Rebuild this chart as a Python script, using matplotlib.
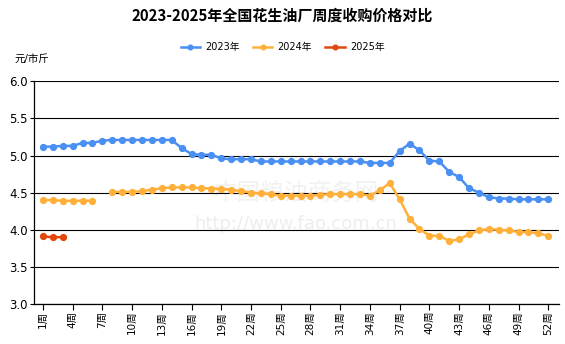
import numpy as np
import matplotlib
matplotlib.use("Agg")
import matplotlib.pyplot as plt

plt.rcParams['font.family'] = ['DejaVu Sans', 'Noto Sans CJK SC']

# data (yuan per jin)
weeks = np.arange(1, 53)
y2023 = [5.12, 5.12, 5.13, 5.13, 5.17, 5.17, 5.20, 5.21, 5.21, 5.21,
         5.21, 5.21, 5.21, 5.21, 5.10, 5.02, 5.01, 5.01, 4.96, 4.95,
         4.95, 4.95, 4.92, 4.92, 4.92, 4.92, 4.92, 4.92, 4.92, 4.92,
         4.92, 4.92, 4.92, 4.90, 4.90, 4.90, 5.06, 5.16, 5.07, 4.93,
         4.92, 4.78, 4.71, 4.56, 4.50, 4.44, 4.42, 4.42, 4.41, 4.41,
         4.41, 4.41]
y2024 = [4.40, 4.40, 4.39, 4.39, 4.39, 4.39, np.nan, 4.51, 4.51, 4.51,
         4.52, 4.54, 4.56, 4.57, 4.57, 4.57, 4.56, 4.555, 4.55, 4.54,
         4.52, 4.50, 4.49, 4.48, 4.46, 4.46, 4.46, 4.46, 4.47, 4.48,
         4.48, 4.48, 4.48, 4.46, 4.53, 4.63, 4.41, 4.15, 4.01, 3.92,
         3.92, 3.85, 3.87, 3.94, 3.99, 4.01, 4.00, 3.99, 3.97, 3.97,
         3.95, 3.92]
y2025 = [3.91, 3.90, 3.90]
labels = ['2023年', '2024年', '2025年']
colors = ['#4a8ff2', '#ffb03b', '#e4470c']
xtick_weeks = np.arange(1, 53, 3)

fig = plt.figure(figsize=(5.65, 3.44), dpi=100)
ax = fig.add_axes([0.0593, 0.1163, 0.9295, 0.6474])

series = [y2023, y2024, y2025]
for vals, lab, col in zip(series, labels, colors):
    ax.plot(weeks[:len(vals)], vals, color=col, lw=1.8, marker='o',
            markersize=4.2, label=lab, zorder=3)

ax.set_xlim(0.05, 53.05)
ax.set_ylim(3.0, 6.0)
ax.set_yticks(np.arange(3.0, 6.01, 0.5))
ax.set_yticklabels(['%.1f' % v for v in np.arange(3.0, 6.01, 0.5)], fontsize=8.5)
ax.set_xticks(xtick_weeks)
ax.set_xticklabels(['%d周' % w for w in xtick_weeks], rotation=90, fontsize=7.5)
ax.grid(axis='y', color='black', lw=0.8)
ax.tick_params(axis='y', length=3, width=0.8, pad=1)
ax.tick_params(axis='x', length=4, width=0.8, pad=1)
for s in ['top', 'right']:
    ax.spines[s].set_visible(False)
for s in ['left', 'bottom']:
    ax.spines[s].set_color('black')
    ax.spines[s].set_linewidth(0.9)

# faint watermark
ax.text(0.5, 0.50, '中国粮油商务网', transform=ax.transAxes, ha='center',
        va='center', fontsize=17, color='#f1f1f1', zorder=1)
ax.text(0.5, 0.36, 'http://www.fao.com.cn', transform=ax.transAxes,
        ha='center', va='center', fontsize=13, color='#ededed', zorder=1)

fig.text(0.5, 0.955, '2023-2025年全国花生油厂周度收购价格对比', ha='center',
         va='center', fontsize=10.8, fontweight='bold',
         family=['Noto Sans CJK SC'])
fig.text(0.025, 0.83, '元/市斤', ha='left', va='center', fontsize=7.5)
fig.legend(loc='center', bbox_to_anchor=(0.5, 0.863), ncol=3, frameon=False,
           fontsize=7, handlelength=2.0, handletextpad=0.5,
           columnspacing=1.4, numpoints=1, markerscale=0.8)

fig.savefig('out.png', dpi=100)
